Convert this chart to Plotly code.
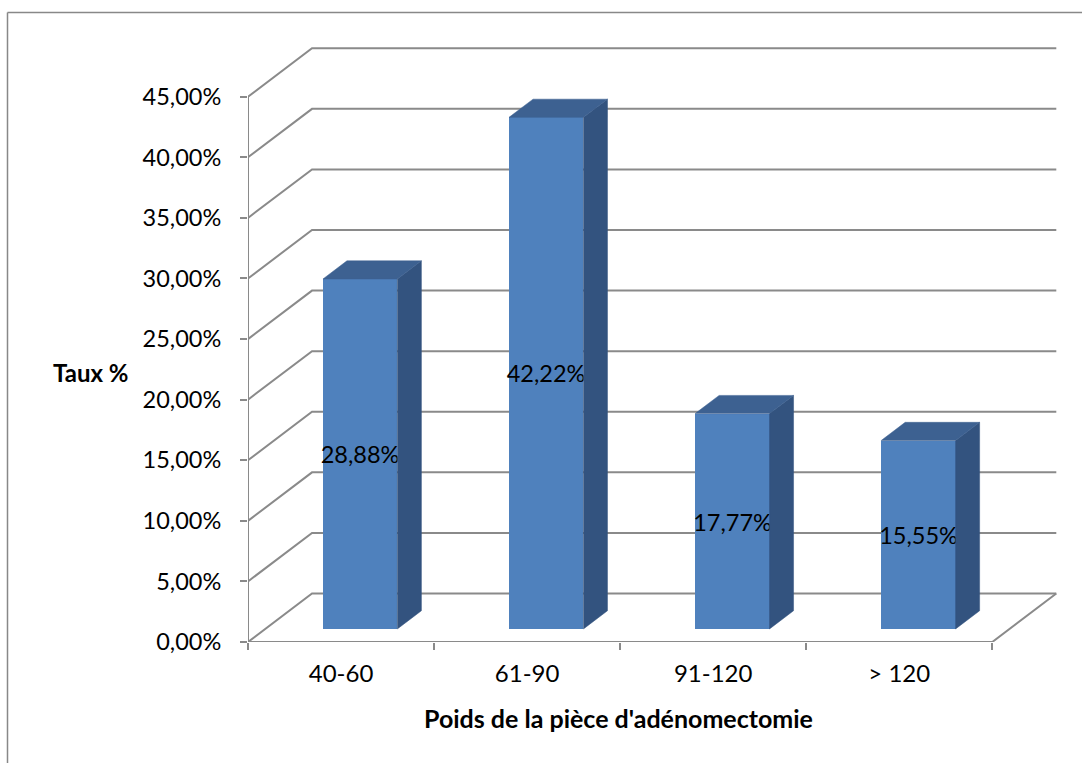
import plotly.graph_objects as go

categories = ["40-60", "61-90", "91-120", "> 120"]
values = [28.88, 42.22, 17.77, 15.55]
value_labels = ["28,88%", "42,22%", "17,77%", "15,55%"]
y_ticks = [0, 5, 10, 15, 20, 25, 30, 35, 40, 45]
y_tick_labels = ["0,00%", "5,00%", "10,00%", "15,00%", "20,00%", "25,00%",
                 "30,00%", "35,00%", "40,00%", "45,00%"]
x_title = "Poids de la pièce d'adénomectomie"
y_title = "Taux %"

# layout / pseudo-3D geometry (data units)
W, H = 1082, 763
ML, MR, MT, MB = 248, 19, 41, 121
XMAX, YMAX = 4.38, 49.6
DX, DY = 0.344, 4.0          # wall depth
F0, F1 = 0.27, 0.645         # bar depth (front / back fraction)
BL, BW = 0.31, 0.40          # bar left offset / width within category
N = len(categories)

FRONT = "#4F81BD"
SIDE = "#33537F"
TOP = "#3D6191"
GRID = "#8A8A8A"
FONT = "Lato"

fig = go.Figure()

# side and top faces
for i, v in enumerate(values):
    x0 = i + BL + F0 * DX
    x1 = x0 + BW
    b0 = F0 * DY
    ddx = (F1 - F0) * DX
    ddy = (F1 - F0) * DY
    # side face
    fig.add_trace(go.Scatter(
        x=[x1, x1 + ddx, x1 + ddx, x1, x1],
        y=[b0, b0 + ddy, b0 + v + ddy, b0 + v, b0],
        mode="lines", fill="toself", fillcolor=SIDE,
        line=dict(color=SIDE, width=0.5), hoverinfo="skip", showlegend=False))
    # top face
    fig.add_trace(go.Scatter(
        x=[x0, x1, x1 + ddx, x0 + ddx, x0],
        y=[b0 + v, b0 + v, b0 + v + ddy, b0 + v + ddy, b0 + v],
        mode="lines", fill="toself", fillcolor=TOP,
        line=dict(color=TOP, width=0.5), hoverinfo="skip", showlegend=False))

# front faces
fig.add_trace(go.Bar(
    x=[i + BL + F0 * DX + BW / 2 for i in range(N)],
    y=values,
    base=[F0 * DY] * N,
    width=BW,
    marker=dict(color=FRONT, line=dict(width=0)),
    text=value_labels,
    textposition="inside",
    insidetextanchor="middle",
    textangle=0,
    constraintext="none",
    textfont=dict(family=FONT, size=23.5, color="black"),
    hoverinfo="skip", showlegend=False))

shapes = []
# back wall gridlines with diagonal connectors
for v in y_ticks:
    shapes.append(dict(type="path", xref="x", yref="y", layer="below",
                       path=f"M 0 {v} L {DX} {v + DY} L {N + DX} {v + DY}",
                       line=dict(color=GRID, width=2)))
# floor
shapes.append(dict(type="path", xref="x", yref="y", layer="below",
                   path=f"M 0 0 L {N} 0 L {N + DX} {DY}",
                   line=dict(color=GRID, width=2)))
# vertical axis line
shapes.append(dict(type="line", xref="x", yref="y", layer="below",
                   x0=0, x1=0, y0=0, y1=y_ticks[-1],
                   line=dict(color=GRID, width=2)))

# outer chart border (left + top)
pw = W - ML - MR
ph = H - MT - MB
def px_x(px):
    return (px - ML) / pw
def px_y(py):
    return (H - MB - py) / ph
shapes.append(dict(type="line", xref="paper", yref="paper",
                   x0=px_x(7.5), x1=px_x(7.5), y0=px_y(12.5), y1=px_y(800),
                   line=dict(color="#888888", width=1.5)))
shapes.append(dict(type="line", xref="paper", yref="paper",
                   x0=px_x(7.5), x1=px_x(1100), y0=px_y(12.5), y1=px_y(12.5),
                   line=dict(color="#888888", width=1.5)))

fig.update_layout(
    width=W, height=H,
    margin=dict(l=ML, r=MR, t=MT, b=MB),
    paper_bgcolor="white", plot_bgcolor="white",
    shapes=shapes,
    bargap=0,
    xaxis=dict(range=[0, XMAX], showgrid=False, zeroline=False, showline=False,
               tickmode="array", tickvals=[i + 0.5 for i in range(N)],
               ticktext=categories, ticks="",
               ticklabelstandoff=15,
               tickfont=dict(family=FONT, size=24, color="black"),
               minor=dict(tickmode="array", tickvals=list(range(N + 1)),
                          ticks="outside", ticklen=7, tickwidth=2,
                          tickcolor=GRID, showgrid=False)),
    yaxis=dict(range=[0, YMAX], showgrid=False, zeroline=False, showline=False,
               tickmode="array", tickvals=y_ticks, ticktext=y_tick_labels,
               ticks="outside", ticklen=7, tickwidth=2, tickcolor=GRID,
               ticklabelstandoff=14,
               tickfont=dict(family=FONT, size=23.5, color="black")),
    annotations=[
        dict(text=f"<b>{y_title}</b>", xref="paper", yref="paper",
             x=px_x(91), y=px_y(372), showarrow=False,
             xanchor="center", yanchor="middle",
             font=dict(family=FONT, size=24, color="black")),
        dict(text=f"<b>{x_title}</b>", xref="paper", yref="paper",
             x=px_x(618), y=px_y(718), showarrow=False,
             xanchor="center", yanchor="middle",
             font=dict(family=FONT, size=25, color="black")),
    ],
)

fig.write_html("out.html")
